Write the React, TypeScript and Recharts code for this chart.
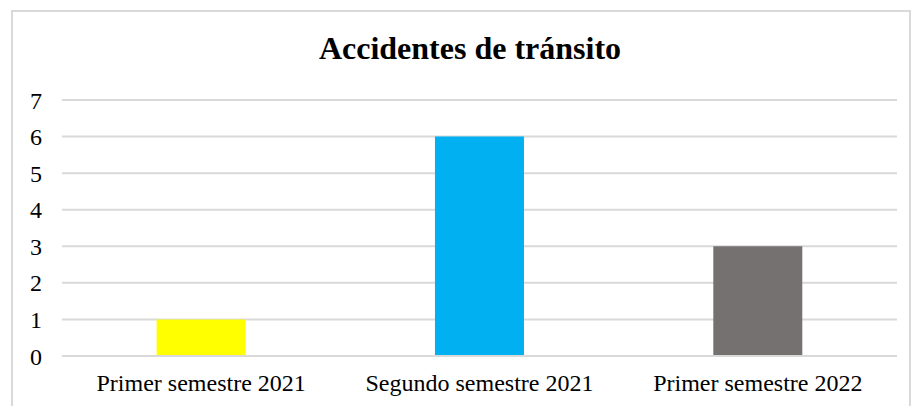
import { Bar, BarChart, CartesianGrid, Cell, XAxis, YAxis } from "recharts";

const periodos = ["Primer semestre 2021", "Segundo semestre 2021", "Primer semestre 2022"];
const accidentes = [1, 6, 3];
const colores = ["#FFFF00", "#00B0F0", "#767171"];
const yTicks = [0, 1, 2, 3, 4, 5, 6, 7];

const data = periodos.map((p, i) => ({ periodo: p, total: accidentes[i] }));

const font = "'Liberation Serif', 'Times New Roman', serif";

export default function App() {
  return (
    <div style={{ position: "absolute", left: 0, top: 0, width: 913, height: 406, background: "#fff", overflow: "hidden", fontFamily: font }}>
      <div
        style={{
          position: "absolute", left: 11, top: 10, width: 900, height: 420,
          border: "2px solid #d9d9d9", boxSizing: "border-box",
        }}
      />
      <div
        style={{
          position: "absolute", left: 0, top: 30, width: 940, textAlign: "center",
          fontWeight: "bold", fontSize: 32, color: "#000",
        }}
      >
        Accidentes de tránsito
      </div>
      <div style={{ position: "absolute", left: 0, top: 0 }}>
        <BarChart
          width={913}
          height={406}
          data={data}
          margin={{ top: 100, right: 16, left: 0, bottom: 0 }}
          barCategoryGap="34%"
          style={{ fontFamily: font }}
        >
          <CartesianGrid vertical={false} stroke="#d9d9d9" strokeWidth={2} />
          <XAxis
            dataKey="periodo"
            height={50}
            tickLine={false}
            axisLine={{ stroke: "#d9d9d9", strokeWidth: 2 }}
            tickMargin={12}
            tick={{ fill: "#000", fontSize: 24 }}
            interval={0}
          />
          <YAxis
            width={62}
            domain={[0, 7]}
            ticks={yTicks}
            tickLine={false}
            axisLine={false}
            tickMargin={14}
            tick={{ fill: "#000", fontSize: 24 }}
          />
          <Bar dataKey="total" isAnimationActive={false}>
            {data.map((d, i) => (
              <Cell key={d.periodo} fill={colores[i]} />
            ))}
          </Bar>
        </BarChart>
      </div>
    </div>
  );
}
